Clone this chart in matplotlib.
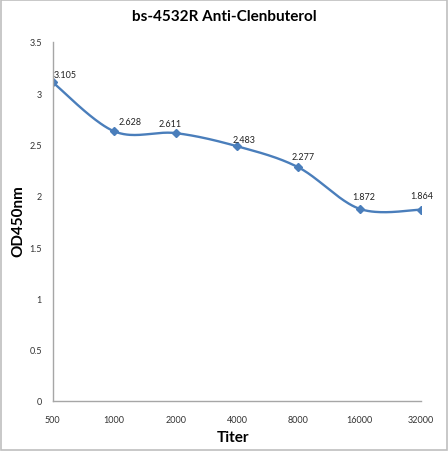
import numpy as np
import matplotlib
matplotlib.use("Agg")
import matplotlib.pyplot as plt
from matplotlib.patches import Rectangle

titers = ["500", "1000", "2000", "4000", "8000", "16000", "32000"]
od450 = [3.105, 2.628, 2.611, 2.483, 2.277, 1.872, 1.864]
value_labels = ["3.105", "2.628", "2.611", "2.483", "2.277", "1.872", "1.864"]

plt.rcParams['font.family'] = ['Lato', 'DejaVu Sans']

cor_linha = "#4a7ebb"


def curva_suave(x, y, sx, sy, n=40):
    # spline tipo Excel (Bezier cardinal), calculada em escala de pixels
    px = np.asarray(x, dtype=float) * sx
    py = np.asarray(y, dtype=float) * sy
    pts = np.column_stack([px, py])
    saida = []
    for i in range(len(pts) - 1):
        p0 = pts[i - 1] if i > 0 else pts[i]
        p1 = pts[i]
        p2 = pts[i + 1]
        p3 = pts[i + 2] if i + 2 < len(pts) else pts[i + 1]
        c1 = p1 + (p2 - p0) / 6.0
        c2 = p2 - (p3 - p1) / 6.0
        t = np.linspace(0, 1, n)[:, None]
        seg = (1 - t) ** 3 * p1 + 3 * (1 - t) ** 2 * t * c1 + 3 * (1 - t) * t ** 2 * c2 + t ** 3 * p2
        saida.append(seg if i == 0 else seg[1:])
    saida = np.vstack(saida)
    return saida[:, 0] / sx, saida[:, 1] / sy


fig = plt.figure(figsize=(4.48, 4.52), dpi=100)
fig.patches.append(Rectangle((0.002, 0.002), 0.996, 0.996, transform=fig.transFigure,
                             fill=False, edgecolor="#bfbfbf", linewidth=1.2))

ax = fig.add_axes([0.118, 0.111, 0.822, 0.794])

xs = np.arange(len(titers))
xc, yc = curva_suave(xs, od450, 61.0, 102.6)
ax.plot(xc, yc, color=cor_linha, linewidth=1.7, solid_capstyle="round")
ax.plot(xs, od450, linestyle="none", marker="D", markersize=4.5, color=cor_linha)

# deslocamento dos rotulos (pixels)
offsets = [(12, 8), (16, 10), (-5, 10), (7, 7), (5, 11), (4, 12), (1, 14)]
for xi, yi, txt, (dx, dy) in zip(xs, od450, value_labels, offsets):
    ax.annotate(txt, (xi, yi), xytext=(dx, dy), textcoords="offset pixels",
                ha="center", va="center", fontsize=6.5, color="#222222")

ax.set_xlim(0, len(titers) - 1)
ax.set_ylim(0, 3.5)
ax.set_xticks(xs)
ax.set_xticklabels(titers)
ax.set_yticks(np.arange(0, 3.51, 0.5))
ax.set_yticklabels(["0", "0.5", "1", "1.5", "2", "2.5", "3", "3.5"])
ax.tick_params(axis="both", length=0, labelsize=6.5, colors="#333333")
ax.tick_params(axis="x", pad=10)
ax.tick_params(axis="y", pad=8)

for lado in ["top", "right"]:
    ax.spines[lado].set_visible(False)
for lado in ["left", "bottom"]:
    ax.spines[lado].set_color("#a6a6a6")
    ax.spines[lado].set_linewidth(1.0)
ax.set_clip_on(False)

fig.text(0.5, 0.962, "bs-4532R Anti-Clenbuterol", ha="center", va="center",
         fontsize=11, fontweight="bold")
fig.text(0.04, 0.51, "OD450nm", ha="center", va="center", rotation=90,
         fontsize=11, fontweight="bold")
fig.text(0.52, 0.031, "Titer", ha="center", va="center",
         fontsize=11, fontweight="bold")

fig.savefig("out.png", dpi=100)
